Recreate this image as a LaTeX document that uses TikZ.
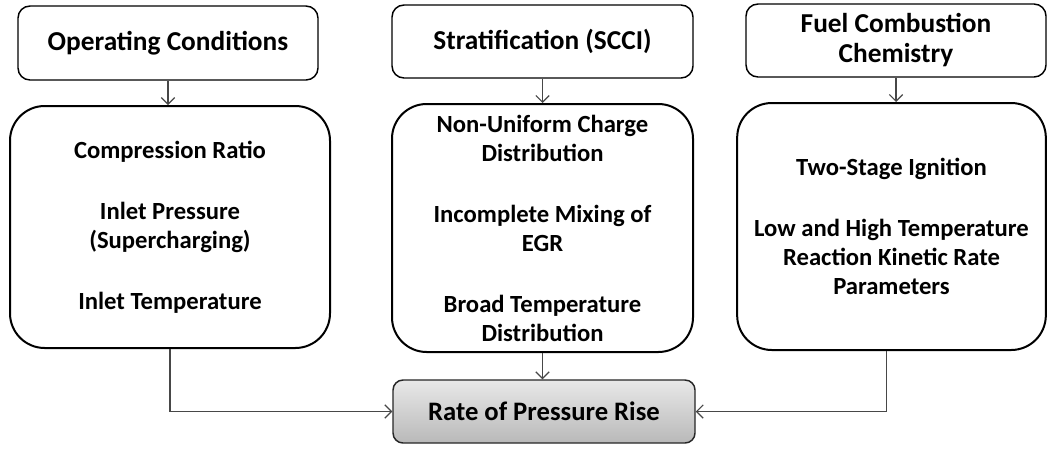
\documentclass[tikz,border=0pt]{standalone}
\usepackage{fontspec}
\setmainfont{Carlito}
\usetikzlibrary{arrows.meta}
\begin{document}
\begin{tikzpicture}[x=0.75pt,y=-0.75pt,
  txt/.style={font=\fontsize{18.5}{21.75}\selectfont\bfseries, align=center, inner sep=0pt},
  toptxt/.style={font=\fontsize{20.5}{22.5}\selectfont\bfseries, align=center, inner sep=0pt},
  topbox/.style={toptxt, draw=black, line width=1.1pt, rounded corners=9pt, fill=white},
  bigbox/.style={txt, draw=black, line width=1.5pt, rounded corners=26pt, fill=white},
  ratebox/.style={toptxt, font=\fontsize{20}{22}\selectfont\bfseries, draw=black!85, line width=1.1pt, rounded corners=7.5pt, top color=gray!18, bottom color=gray!55},
  arr/.style={draw=black!72, line width=0.9pt, -{Straight Barb[length=5pt,width=10pt]}}
]
\useasboundingbox (0,0) rectangle (1049,454);

\node[topbox, minimum width=225pt, minimum height=55.5pt] (top1) at (168,43) {Operating Conditions};
\node[topbox, minimum width=225.75pt, minimum height=54.75pt] (top2) at (542.5,41.5) {Stratification (SCCI)};
\node[topbox, minimum width=225pt, minimum height=54.75pt] (top3) at (896,40.5) {Fuel Combustion\\Chemistry};

\node[bigbox, minimum width=240pt, minimum height=181.5pt] (big1) at (170,227)
  {Compression Ratio\\[24pt]Inlet Pressure\\(Supercharging)\\[24pt]Inlet Temperature};
\node[bigbox, minimum width=225.75pt, minimum height=186pt] (big2) at (542.5,228)
  {Non-Uniform Charge\\Distribution\\[24pt]Incomplete Mixing of\\EGR\\[24pt]Broad Temperature\\Distribution};
\node[bigbox, minimum width=231.5pt, minimum height=185.25pt] (big3) at (891.5,226.5)
  {Two-Stage Ignition\\[24pt]Low and High Temperature\\Reaction Kinetic Rate\\Parameters};

\node[ratebox, minimum width=226.5pt, minimum height=47.25pt] (rate) at (544,411.5) {Rate of Pressure Rise};

\draw[arr] (top1.south) -- (top1.south |- big1.north);
\draw[arr] (top2.south) -- (top2.south |- big2.north);
\draw[arr] (top3.south) -- (top3.south |- big3.north);

\draw[arr] (big1.south) |- (rate.west);
\draw[arr] (big2.south) -- (big2.south |- rate.north);
\draw[arr] ([xshift=-3.5pt]big3.south) |- (rate.east);
\end{tikzpicture}
\end{document}
